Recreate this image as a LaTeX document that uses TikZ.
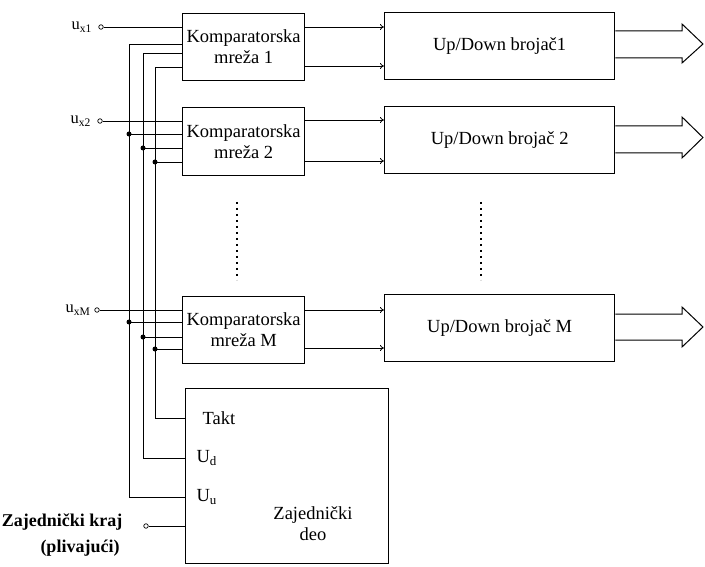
\documentclass[tikz,border=0pt]{standalone}
\usepackage{fontspec}
\setmainfont{Liberation Serif}
\usetikzlibrary{arrows.meta}
\begin{document}
\begin{tikzpicture}[x=1pt,y=-1pt,
  blk/.style={draw,line width=1.3pt,inner sep=0pt,anchor=north west,align=center},
  wire/.style={line width=0.8pt},
  sig/.style={wire,-{To[length=4pt,width=6pt]}},
  port/.style={circle,draw,line width=0.7pt,inner sep=0pt,minimum size=4.5pt},
  jn/.style={circle,fill,inner sep=0pt,minimum size=5pt},
  big/.style={font=\fontsize{18.5}{21}\selectfont},
  lab/.style={font=\fontsize{16.5}{16}\selectfont,anchor=east},
  bold/.style={font=\bfseries\fontsize{18}{20}\selectfont},
  fat/.style={line width=1pt,line join=miter},
  dots/.style={line width=1.6pt,dash pattern=on 1.6pt off 4.4pt}]
\useasboundingbox (0,0) rectangle (705,567);

% comparator networks
\node[blk,big,minimum width=122pt,minimum height=67pt] (k1) at (182,13) {Komparatorska\\mreža 1};
\node[blk,big,minimum width=122pt,minimum height=68pt] (k2) at (182,107) {Komparatorska\\mreža 2};
\node[blk,big,minimum width=122pt,minimum height=67pt] (kM) at (182,296) {Komparatorska\\mreža M};
% counters
\node[blk,big,minimum width=230pt,minimum height=67pt] (c1) at (384,12) {Up/Down brojač1};
\node[blk,big,minimum width=230pt,minimum height=67pt] (c2) at (384,106) {Up/Down brojač 2};
\node[blk,big,minimum width=230pt,minimum height=67pt] (cM) at (384,294) {Up/Down brojač M};
% common part
\node[blk,minimum width=203pt,minimum height=175pt] (z) at (185,388) {};
\node[big] (tk) at (219,418) {Takt};
\node[big,anchor=west] (ud) at (193,458) {U\textsubscript{d}};
\node[big,anchor=west] (uu) at (193,497) {U\textsubscript{u}};
\node[big,align=center] (zd) at (313,524) {Zajednički\\deo};

% signals comparator -> counter
\draw[sig] (k1.east |- 0,27) -- (c1.west |- 0,27);
\draw[sig] (k1.east |- 0,66) -- (c1.west |- 0,66);
\draw[sig] (k2.east |- 0,120) -- (c2.west |- 0,120);
\draw[sig] (k2.east |- 0,161) -- (c2.west |- 0,161);
\draw[sig] (kM.east |- 0,310) -- (cM.west |- 0,310);
\draw[sig] (kM.east |- 0,348) -- (cM.west |- 0,348);

% big output arrows
\draw[fat] (c1.east |- 0,31) -- (682,31) -- (682,24) -- (703,44) -- (682,63) -- (682,58) -- (c1.east |- 0,58);
\draw[fat] (c2.east |- 0,126) -- (682,126) -- (682,117) -- (703,137.5) -- (682,158) -- (682,153) -- (c2.east |- 0,153);
\draw[fat] (cM.east |- 0,314) -- (682,314) -- (682,307) -- (703,327) -- (682,347) -- (682,340) -- (cM.east |- 0,340);

% inputs
\node[port] (i1) at (101,27) {};
\node[port] (i2) at (100,121) {};
\node[port] (iM) at (97,310) {};
\node[lab] (l1) at ([xshift=-3pt]i1.west) {u\textsubscript{x1}};
\node[lab] (l2) at ([xshift=-3pt]i2.west) {u\textsubscript{x2}};
\node[lab] (lM) at ([xshift=-0.5pt]iM.west) {u\textsubscript{xM}};
\draw[wire] (i1) -- (k1.west |- i1);
\draw[wire] (i2) -- (k2.west |- i2);
\draw[wire] (iM) -- (kM.west |- iM);

% buses
\draw[wire] (k1.west |- 0,44) -| (129,497) -- (z.west |- uu);
\draw[wire] (k1.west |- 0,53) -| (143,458) -- (z.west |- ud);
\draw[wire] (k1.west |- 0,67) -| (155,418) -- (z.west |- tk);

% junctions
\draw[wire] (129,134) node[jn]{} -- (k2.west |- 0,134);
\draw[wire] (143,148) node[jn]{} -- (k2.west |- 0,148);
\draw[wire] (155,162) node[jn]{} -- (k2.west |- 0,162);
\draw[wire] (129,322) node[jn]{} -- (kM.west |- 0,322);
\draw[wire] (143,337) node[jn]{} -- (kM.west |- 0,337);
\draw[wire] (155,349) node[jn]{} -- (kM.west |- 0,349);

% common terminal
\node[port] (zk) at (146,526) {};
\draw[wire] (zk) -- (z.west |- zk);
\node[bold,anchor=east] (zl) at (126,522) {Zajednički kraj};
\node[bold] (pl) at (80,548) {(plivajući)};

% ellipsis dots
\draw[dots] (237,202) -- (237,280);
\draw[dots] (481,202) -- (481,280);
\end{tikzpicture}
\end{document}
